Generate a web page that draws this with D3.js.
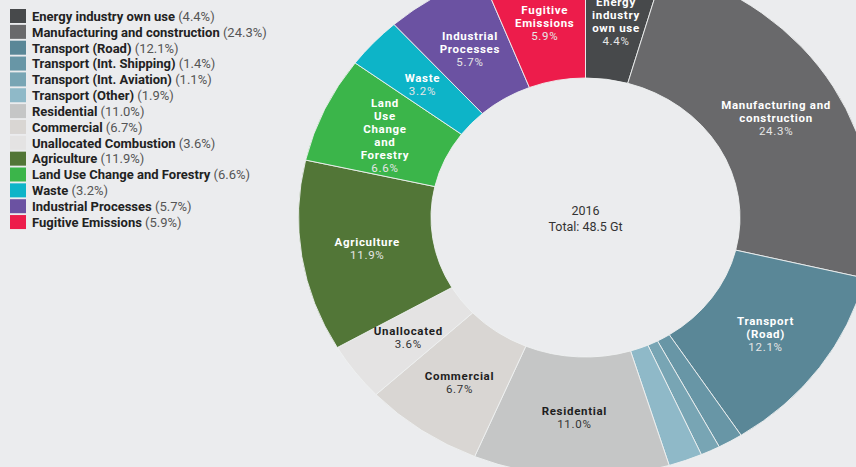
<!DOCTYPE html>
<html><head><meta charset="utf-8">
<script src="https://cdn.jsdelivr.net/npm/d3@7"></script>
<style>
html,body{margin:0;padding:0;background:#ebecee;}
svg{display:block;font-family:Roboto,"Noto Sans",sans-serif;}
</style></head>
<body>
<svg id="chart" width="856" height="467"></svg>
<script>
const categories = ["Energy industry own use","Manufacturing and construction","Transport (Road)","Transport (Int. Shipping)","Transport (Int. Aviation)","Transport (Other)","Residential","Commercial","Unallocated Combustion","Agriculture","Land Use Change and Forestry","Waste","Industrial Processes","Fugitive Emissions"];
const values = [4.4,24.3,12.1,1.4,1.1,1.9,11.0,6.7,3.6,11.9,6.6,3.2,5.7,5.9];
const colors = ["#47494b","#69696b","#5a8797","#6896a6","#78a5b4","#8fb9c8","#c5c6c6","#d9d6d3","#e4e3e3","#527637","#3bb54a","#0db4c8","#6b52a2","#ed1c4b"];
const sliceLabels = ["Energy\nindustry\nown use","Manufacturing and\nconstruction","Transport\n(Road)","","","","Residential","Commercial","Unallocated","Agriculture","Land\nUse\nChange\nand\nForestry","Waste","Industrial\nProcesses","Fugitive\nEmissions"];
const darkLabel = [false,false,false,false,false,false,true,true,true,false,false,false,false,false];
const centerTitle = "2016";
const centerTotal = "Total: 48.5 Gt";

const svg = d3.select("#chart");
const W = 856, H = 467;
svg.append("rect").attr("width",W).attr("height",H).attr("fill","#ebecee");

// legend
const legend = svg.append("g");
const rowH = 15.85;
categories.forEach((c,i)=>{
  const g = legend.append("g").attr("transform",`translate(10,${9+i*rowH})`);
  g.append("rect").attr("width",16).attr("height",14).attr("fill",colors[i]);
  const t = g.append("text").attr("x",22).attr("y",11.8).attr("font-size",13).attr("fill","#222");
  t.append("tspan").attr("font-weight","bold").text(c);
  t.append("tspan").attr("fill","#555").text(" (" + d3.format(".1f")(values[i]) + "%)");
});

// donut
const cx = 585.5, cy = 217.5, rIn = 154.5, rOut = 287, sy = 0.903;
const pie = d3.pie().sort(null).value(d=>d).startAngle(0).endAngle(2*Math.PI);
const arcs = pie(values);
const arc = d3.arc().innerRadius(rIn).outerRadius(rOut);
const g = svg.append("g").attr("transform",`translate(${cx},${cy}) scale(1,${sy})`);
g.selectAll("path").data(arcs).join("path")
  .attr("d",arc).attr("fill",(d,i)=>colors[i])
  .attr("stroke","#eef0f1").attr("stroke-width",0.9).attr("vector-effect","non-scaling-stroke");

// slice labels
const labelArc = d3.arc().innerRadius((rIn+rOut)/2).outerRadius((rIn+rOut)/2);
arcs.forEach((d,i)=>{
  if(!sliceLabels[i]) return;
  const [x,y] = labelArc.centroid(d);
  const lines = sliceLabels[i].split("\n");
  const n = lines.length + 1;
  const lh = 13;
  const px = cx + x, py = cy + y*sy;
  const t = svg.append("text").attr("text-anchor","middle").attr("font-size",11.5)
    .attr("letter-spacing","0.7px")
    .attr("fill", darkLabel[i] ? "#1e1e1e" : "#ffffff");
  lines.forEach((l,k)=>{
    t.append("tspan").attr("x",px).attr("y",py - (n-1)*lh/2 + k*lh + 5)
      .attr("font-weight","bold").text(l);
  });
  t.append("tspan").attr("x",px).attr("y",py - (n-1)*lh/2 + (n-1)*lh + 5)
    .attr("fill", darkLabel[i] ? "#333" : "#e6e6e6").text(d3.format(".1f")(values[i])+"%");
});

// center
svg.append("text").attr("x",cx).attr("y",cy-3).attr("text-anchor","middle").attr("font-size",12.5).attr("fill","#333").text(centerTitle);
svg.append("text").attr("x",cx).attr("y",cy+13).attr("text-anchor","middle").attr("font-size",12.5).attr("fill","#333").text(centerTotal);
</script>
</body></html>
